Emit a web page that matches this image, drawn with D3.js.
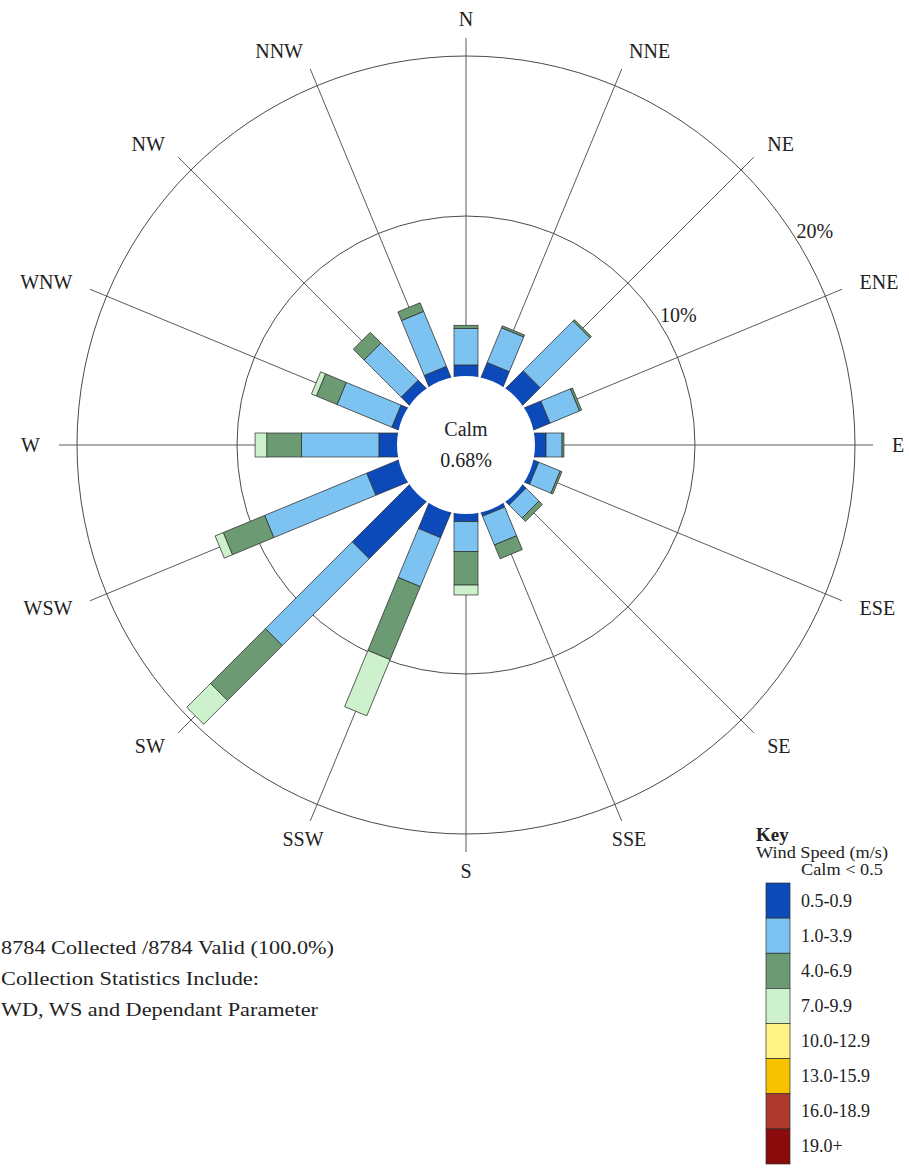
<!DOCTYPE html>
<html>
<head>
<meta charset="utf-8">
<script src="https://cdn.jsdelivr.net/npm/d3@7"></script>
<style>
  html, body { margin: 0; padding: 0; background: #ffffff; }
  svg { display: block; }
  text { font-family: "Liberation Serif", "Times New Roman", serif; fill: #222; }
</style>
</head>
<body>
<svg id="rose" width="909" height="1168"></svg>
<script>
// Wind directions (clockwise from north)
const directions = ["N","NNE","NE","ENE","E","ESE","SE","SSE","S","SSW","SW","WSW","W","WNW","NW","NNW"];

// Wind speed classes (m/s)
const speedClasses = ["0.5-0.9","1.0-3.9","4.0-6.9","7.0-9.9","10.0-12.9","13.0-15.9","16.0-18.9","19.0+"];
const classColors = ["#0c4ab9","#7cc3f1","#6b9a73","#cdf1cc","#fff385","#f7c200","#ad3a2d","#8a0b0b"];

// Frequency (% of hours) per direction for each speed class
const freq05to09  = [0.69, 0.96, 1.50, 1.06, 0.69, 0.30, 0.25, 0.20, 0.48, 1.65, 5.00, 2.10, 1.13, 0.40, 0.67, 0.70];
const freq10to39  = [2.29, 2.35, 4.40, 2.00, 1.00, 1.45, 1.14, 1.94, 1.87, 3.31, 7.67, 6.90, 4.83, 3.70, 3.28, 3.72];
const freq40to69  = [0.19, 0.13, 0.12, 0.14, 0.12, 0.12, 0.30, 0.93, 2.09, 4.94, 4.85, 2.80, 2.18, 1.40, 0.95, 0.58];
const freq70to99  = [0.00, 0.00, 0.00, 0.00, 0.00, 0.00, 0.00, 0.00, 0.62, 3.80, 2.10, 0.55, 0.73, 0.33, 0.00, 0.00];
const freq100to129 = new Array(16).fill(0);
const freq130to159 = new Array(16).fill(0);
const freq160to189 = new Array(16).fill(0);
const freq190plus  = new Array(16).fill(0);
const classSeries = [freq05to09, freq10to39, freq40to69, freq70to99, freq100to129, freq130to159, freq160to189, freq190plus];

const calmPct = "0.68%";
const ringTicks = [10, 20];
const ringLabels = ["10%", "20%"];
const statsLines = [
  "8784 Collected /8784 Valid (100.0%)",
  "Collection Statistics Include:",
  "WD, WS and Dependant Parameter"
];
const statsWidths = [333, 258, 317];

// ---- layout ----
const svg = d3.select("#rose");
const cx = 466, cy = 445;
const calmRadius = 69;
const barWidth = 24;
const axisLength = 407;
const labelRadius = 426;

const r = d3.scaleLinear().domain([0, 20]).range([calmRadius, 389]);
const angle = d3.scaleLinear().domain([0, directions.length]).range([0, 360]);
const color = d3.scaleOrdinal().domain(speedClasses).range(classColors);
const rad = a => a * Math.PI / 180;

// build table for stacking
const rows = directions.map((dir, i) => {
  const o = { dir };
  speedClasses.forEach((c, k) => { o[c] = classSeries[k][i]; });
  return o;
});
const stacked = d3.stack().keys(speedClasses)(rows);

const g = svg.append("g").attr("transform", `translate(${cx},${cy})`);

// radial axis lines
g.selectAll("line.axis").data(directions).join("line")
  .attr("class", "axis")
  .attr("x1", 0).attr("y1", 0)
  .attr("x2", (d, i) => axisLength * Math.sin(rad(angle(i))))
  .attr("y2", (d, i) => -axisLength * Math.cos(rad(angle(i))))
  .attr("stroke", "#5a5a5a").attr("stroke-width", 1);

// percentage rings
g.selectAll("circle.ring").data(ringTicks).join("circle")
  .attr("class", "ring")
  .attr("r", d => r(d))
  .attr("fill", "none").attr("stroke", "#4a4a4a").attr("stroke-width", 1);

// ring labels
const ringLabelAngle = rad(58.5);
g.selectAll("text.ringlab").data(ringTicks).join("text")
  .attr("class", "ringlab")
  .attr("x", d => (r(d) + 20) * Math.sin(ringLabelAngle))
  .attr("y", d => -(r(d) + 20) * Math.cos(ringLabelAngle))
  .attr("text-anchor", "middle").attr("dominant-baseline", "central")
  .attr("font-size", 20)
  .text((d, i) => ringLabels[i]);

// stacked bars, one rotated group per direction
const bars = g.selectAll("g.dir").data(directions).join("g")
  .attr("class", "dir")
  .attr("transform", (d, i) => `rotate(${angle(i)})`);

bars.each(function(dir, i) {
  const segs = stacked.map(layer => ({ key: layer.key, lo: layer[i][0], hi: layer[i][1] }))
    .filter(s => s.hi - s.lo > 0);
  d3.select(this).selectAll("rect").data(segs).join("rect")
    .attr("x", -barWidth / 2)
    .attr("width", barWidth)
    .attr("y", s => -r(s.hi))
    .attr("height", s => r(s.hi) - (s.lo === 0 ? r(0) - 6 : r(s.lo)))
    .attr("fill", s => color(s.key))
    .attr("stroke", "#2e2e2e").attr("stroke-width", 0.7);
});

// calm circle
g.append("circle").attr("r", calmRadius).attr("fill", "#ffffff");
g.append("text").attr("x", 0).attr("y", -9).attr("text-anchor", "middle")
  .attr("font-size", 20).text("Calm");
g.append("text").attr("x", 0).attr("y", 22).attr("text-anchor", "middle")
  .attr("font-size", 20).text(calmPct);

// direction labels: side labels grow outward, labels near south are centred
g.selectAll("text.dirlab").data(directions).join("text")
  .attr("class", "dirlab")
  .attr("x", (d, i) => labelRadius * Math.sin(rad(angle(i))))
  .attr("y", (d, i) => -labelRadius * Math.cos(rad(angle(i))))
  .attr("text-anchor", (d, i) => {
    const s = Math.sin(rad(angle(i))), c = Math.cos(rad(angle(i)));
    if (Math.abs(s) < 1e-6 || c < -0.9) return "middle";
    return s > 0 ? "start" : "end";
  })
  .attr("dominant-baseline", "central")
  .attr("font-size", 20)
  .text(d => d);

// collection statistics
svg.selectAll("text.stats").data(statsLines).join("text")
  .attr("class", "stats")
  .attr("x", 1).attr("y", (d, i) => 954 + i * 31)
  .attr("font-size", 19)
  .attr("textLength", (d, i) => statsWidths[i])
  .attr("lengthAdjust", "spacingAndGlyphs")
  .text(d => d);

// legend
const lg = svg.append("g").attr("transform", "translate(756,0)");
lg.append("text").attr("x", 0).attr("y", 841).attr("font-size", 19)
  .attr("font-weight", "bold").text("Key");
lg.append("text").attr("x", 0).attr("y", 858).attr("font-size", 16)
  .attr("textLength", 132).attr("lengthAdjust", "spacingAndGlyphs")
  .text("Wind Speed (m/s)");
lg.append("text").attr("x", 45).attr("y", 875).attr("font-size", 16)
  .attr("textLength", 82).attr("lengthAdjust", "spacingAndGlyphs")
  .text("Calm < 0.5");

const boxY = d3.scaleBand().domain(speedClasses).range([883, 1164]).padding(0);
lg.selectAll("rect.key").data(speedClasses).join("rect")
  .attr("class", "key")
  .attr("x", 10).attr("width", 24)
  .attr("y", d => boxY(d)).attr("height", boxY.bandwidth())
  .attr("fill", d => color(d))
  .attr("stroke", "#2e2e2e").attr("stroke-width", 0.7);
lg.selectAll("text.keylab").data(speedClasses).join("text")
  .attr("class", "keylab")
  .attr("x", 45).attr("y", d => boxY(d) + boxY.bandwidth() / 2)
  .attr("dominant-baseline", "central")
  .attr("font-size", 18)
  .text(d => d);
</script>
</body>
</html>
